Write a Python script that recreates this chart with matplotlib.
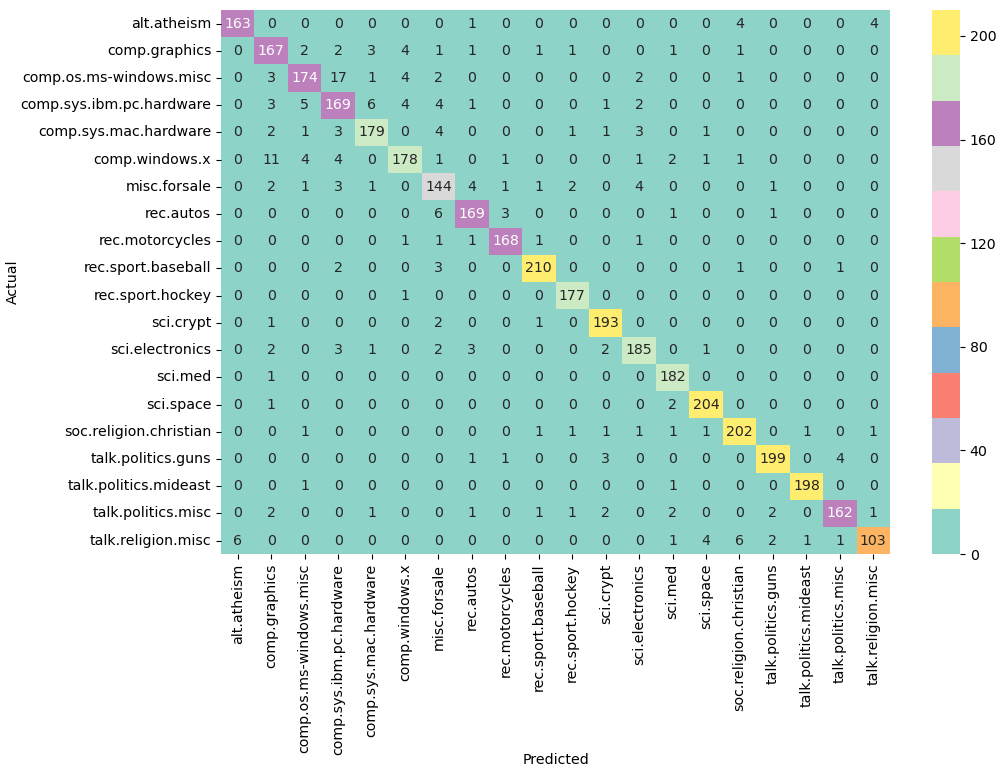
import numpy as np
import matplotlib
matplotlib.use("Agg")
import matplotlib.pyplot as plt
import seaborn as sns

labels = ["alt.atheism", "comp.graphics", "comp.os.ms-windows.misc", "comp.sys.ibm.pc.hardware",
          "comp.sys.mac.hardware", "comp.windows.x", "misc.forsale", "rec.autos", "rec.motorcycles",
          "rec.sport.baseball", "rec.sport.hockey", "sci.crypt", "sci.electronics", "sci.med",
          "sci.space", "soc.religion.christian", "talk.politics.guns", "talk.politics.mideast",
          "talk.politics.misc", "talk.religion.misc"]

row_alt_atheism = [163, 0, 0, 0, 0, 0, 0, 1, 0, 0, 0, 0, 0, 0, 0, 4, 0, 0, 0, 4]
row_comp_graphics = [0, 167, 2, 2, 3, 4, 1, 1, 0, 1, 1, 0, 0, 1, 0, 1, 0, 0, 0, 0]
row_comp_os = [0, 3, 174, 17, 1, 4, 2, 0, 0, 0, 0, 0, 2, 0, 0, 1, 0, 0, 0, 0]
row_ibm = [0, 3, 5, 169, 6, 4, 4, 1, 0, 0, 0, 1, 2, 0, 0, 0, 0, 0, 0, 0]
row_mac = [0, 2, 1, 3, 179, 0, 4, 0, 0, 0, 1, 1, 3, 0, 1, 0, 0, 0, 0, 0]
row_windows_x = [0, 11, 4, 4, 0, 178, 1, 0, 1, 0, 0, 0, 1, 2, 1, 1, 0, 0, 0, 0]
row_forsale = [0, 2, 1, 3, 1, 0, 144, 4, 1, 1, 2, 0, 4, 0, 0, 0, 1, 0, 0, 0]
row_autos = [0, 0, 0, 0, 0, 0, 6, 169, 3, 0, 0, 0, 0, 1, 0, 0, 1, 0, 0, 0]
row_motorcycles = [0, 0, 0, 0, 0, 1, 1, 1, 168, 1, 0, 0, 1, 0, 0, 0, 0, 0, 0, 0]
row_baseball = [0, 0, 0, 2, 0, 0, 3, 0, 0, 210, 0, 0, 0, 0, 0, 1, 0, 0, 1, 0]
row_hockey = [0, 0, 0, 0, 0, 1, 0, 0, 0, 0, 177, 0, 0, 0, 0, 0, 0, 0, 0, 0]
row_crypt = [0, 1, 0, 0, 0, 0, 2, 0, 0, 1, 0, 193, 0, 0, 0, 0, 0, 0, 0, 0]
row_electronics = [0, 2, 0, 3, 1, 0, 2, 3, 0, 0, 0, 2, 185, 0, 1, 0, 0, 0, 0, 0]
row_med = [0, 1, 0, 0, 0, 0, 0, 0, 0, 0, 0, 0, 0, 182, 0, 0, 0, 0, 0, 0]
row_space = [0, 1, 0, 0, 0, 0, 0, 0, 0, 0, 0, 0, 0, 2, 204, 0, 0, 0, 0, 0]
row_christian = [0, 0, 1, 0, 0, 0, 0, 0, 0, 1, 1, 1, 1, 1, 1, 202, 0, 1, 0, 1]
row_guns = [0, 0, 0, 0, 0, 0, 0, 1, 1, 0, 0, 3, 0, 0, 0, 0, 199, 0, 4, 0]
row_mideast = [0, 0, 1, 0, 0, 0, 0, 0, 0, 0, 0, 0, 0, 1, 0, 0, 0, 198, 0, 0]
row_pol_misc = [0, 2, 0, 0, 1, 0, 0, 1, 0, 1, 1, 2, 0, 2, 0, 0, 2, 0, 162, 1]
row_rel_misc = [6, 0, 0, 0, 0, 0, 0, 0, 0, 0, 0, 0, 0, 1, 4, 6, 2, 1, 1, 103]

cm = np.array([row_alt_atheism, row_comp_graphics, row_comp_os, row_ibm, row_mac,
               row_windows_x, row_forsale, row_autos, row_motorcycles, row_baseball,
               row_hockey, row_crypt, row_electronics, row_med, row_space,
               row_christian, row_guns, row_mideast, row_pol_misc, row_rel_misc])

fs = 10.2
plt.rcParams['font.size'] = fs
fig = plt.figure(figsize=(10, 7.75), dpi=100)
ax = fig.add_axes([0.221, 0.285, 0.669, 0.702])
cax = fig.add_axes([0.932, 0.285, 0.028, 0.702])
sns.heatmap(cm, annot=True, fmt='d', cmap='Set3', xticklabels=labels, yticklabels=labels,
            ax=ax, cbar_ax=cax, annot_kws={'size': fs})
ax.set_xlabel('Predicted', fontsize=fs)
ax.set_ylabel('Actual', fontsize=fs)
ax.xaxis.set_label_coords(0.5, -0.3655)
ax.yaxis.set_label_coords(-0.300, 0.5)
ax.tick_params(labelsize=fs)
cax.tick_params(labelsize=fs)
cax.set_yticks([0, 40, 80, 120, 160, 200])
plt.setp(ax.get_xticklabels(), rotation=90)
plt.setp(ax.get_yticklabels(), rotation=0)
fig.savefig('out.png', dpi=100)
